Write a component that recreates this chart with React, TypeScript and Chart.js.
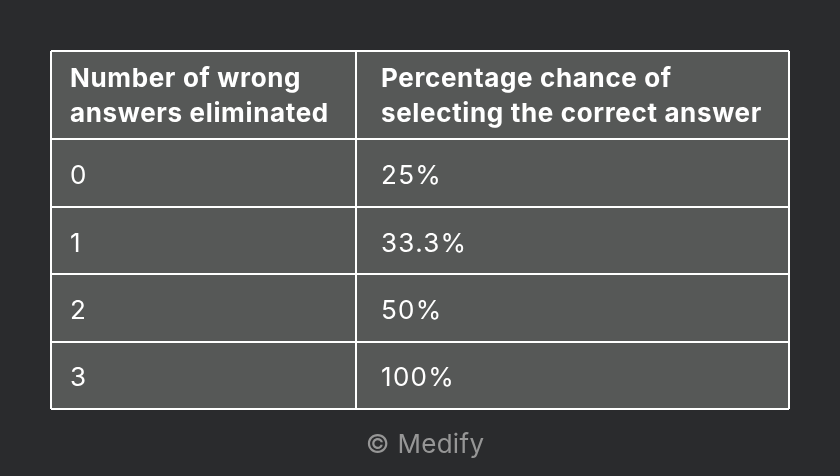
import React, { useEffect, useRef } from "react";
import { Chart, registerables } from "chart.js";

Chart.register(...registerables);

// ---- data ----
const headerColumn1 = ["Number of wrong", "answers eliminated"];
const headerColumn2 = ["Percentage chance of", "selecting the correct answer"];
const answersEliminated = ["0", "1", "2", "3"];
const chanceOfCorrect = ["25%", "33.3%", "50%", "100%"];
const creditText = "© Medify";

// ---- layout (units of the chart's own scales) ----
const COLUMN_SPLIT = 305 / 738; // x-scale fraction where column 2 begins
const HEADER_UNITS = 88.3 / 67.3; // header row height relative to a body row
const rowEdges: number[] = [0, HEADER_UNITS];
answersEliminated.forEach((_, i) => rowEdges.push(HEADER_UNITS + i + 1));
const colEdges = [0, COLUMN_SPLIT, 1];

const PAGE_BG = "#2a2b2d";
const CELL_BG = "#565857";
const LINE = "#ffffff";
const TEXT = "#ffffff";
const CREDIT = "#969696";
const FONT = "Inter, 'Noto Sans', sans-serif";

const tablePlugin = {
  id: "tablePlugin",
  beforeDraw(chart: any) {
    const { ctx, chartArea } = chart;
    ctx.save();
    ctx.fillStyle = PAGE_BG;
    ctx.fillRect(0, 0, chart.width, chart.height);
    ctx.fillStyle = CELL_BG;
    ctx.fillRect(chartArea.left, chartArea.top, chartArea.right - chartArea.left, chartArea.bottom - chartArea.top);
    ctx.restore();
  },
  afterDraw(chart: any) {
    const { ctx, chartArea } = chart;
    const x = chart.scales.x;
    const y = chart.scales.y;
    const col1X = x.getPixelForValue(colEdges[0]) + 19;
    const col2X = x.getPixelForValue(colEdges[1]) + 25;
    ctx.save();
    ctx.fillStyle = TEXT;
    ctx.textAlign = "left";
    ctx.textBaseline = "alphabetic";

    // header
    ctx.font = `700 26px ${FONT}`;
    (ctx as any).letterSpacing = "0.65px";
    const hc = (y.getPixelForValue(rowEdges[0]) + y.getPixelForValue(rowEdges[1])) / 2;
    const lh = 35;
    [headerColumn1, headerColumn2].forEach((lines, ci) => {
      const cx = ci === 0 ? col1X : col2X;
      lines.forEach((line, li) => {
        ctx.fillText(line, cx, hc - 8.5 + li * lh);
      });
    });

    // body
    ctx.font = `400 26px ${FONT}`;
    (ctx as any).letterSpacing = "1.3px";
    answersEliminated.forEach((v, i) => {
      const c = (y.getPixelForValue(rowEdges[i + 1]) + y.getPixelForValue(rowEdges[i + 2])) / 2;
      ctx.fillText(v, col1X, c + 11);
      ctx.fillText(chanceOfCorrect[i], col2X, c + 11);
    });

    // credit
    ctx.fillStyle = CREDIT;
    ctx.textAlign = "center";
    ctx.font = `400 26px ${FONT}`;
    (ctx as any).letterSpacing = "0.3px";
    ctx.fillText(creditText, (chartArea.left + chartArea.right) / 2 + 5, chartArea.bottom + 44);
    ctx.restore();
  },
};

export default function App() {
  const ref = useRef<HTMLCanvasElement | null>(null);
  useEffect(() => {
    if (!ref.current) return;
    const chart = new Chart(ref.current, {
      type: "scatter",
      data: { datasets: [] },
      options: {
        responsive: false,
        animation: false,
        events: [],
        layout: { padding: { left: 51, right: 51, top: 51, bottom: 67 } },
        plugins: { legend: { display: false }, tooltip: { enabled: false }, title: { display: false } },
        scales: {
          x: {
            type: "linear",
            min: 0,
            max: 1,
            ticks: { display: false },
            grid: { color: LINE, lineWidth: 2, drawTicks: false },
            border: { display: false },
            afterBuildTicks: (s: any) => {
              s.ticks = colEdges.map((value) => ({ value }));
            },
            afterFit: (s: any) => {
              s.height = 0;
            },
          },
          y: {
            type: "linear",
            reverse: true,
            min: 0,
            max: rowEdges[rowEdges.length - 1],
            ticks: { display: false },
            grid: { color: LINE, lineWidth: 2, drawTicks: false },
            border: { display: false },
            afterBuildTicks: (s: any) => {
              s.ticks = rowEdges.map((value) => ({ value }));
            },
            afterFit: (s: any) => {
              s.width = 0;
            },
          },
        },
      } as any,
      plugins: [tablePlugin],
    });
    return () => chart.destroy();
  }, []);
  return (
    <div style={{ position: "fixed", left: 0, top: 0, width: 840, height: 476, background: PAGE_BG }}>
      <canvas ref={ref} width={840} height={476} style={{ display: "block", width: 840, height: 476 }} />
    </div>
  );
}
